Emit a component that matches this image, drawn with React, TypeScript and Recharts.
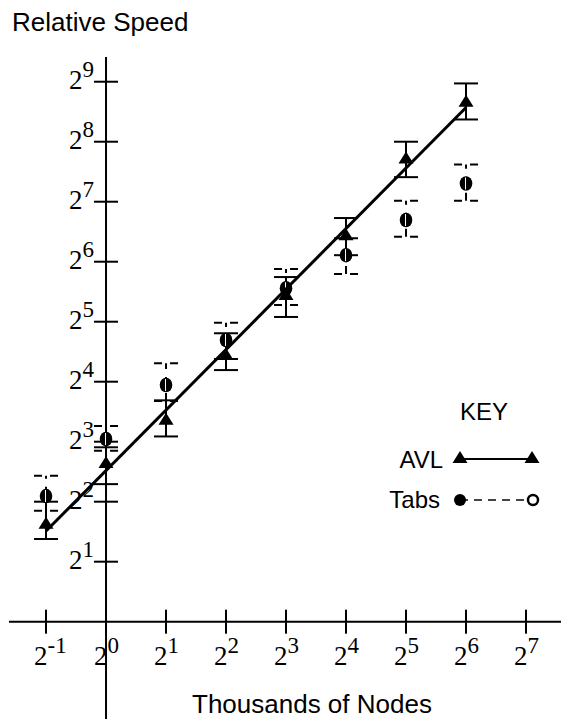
import React from "react";
import { ScatterChart, Scatter, XAxis, YAxis, ErrorBar, ReferenceLine } from "recharts";

// thousands of nodes (x) and relative speed (y), log2 axes
const nodes = [0.5, 1, 2, 4, 8, 16, 32, 64];
const avlSpeed = [3.1, 6.25, 10.3, 21.8, 43.6, 87, 211, 406];
const avlLow = [2.6, 4.9, 8.5, 18.3, 33.8, 69, 170, 331];
const avlHigh = [4.0, 7.5, 12.9, 28, 53.6, 106, 256, 502];
const tabsSpeed = [4.27, 8.25, 15.4, 25.9, 47.1, 69, 103.6, 158];
const tabsLow = [3.6, 7.2, 12.8, 20.8, 38.8, 55.5, 85.4, 129.5];
const tabsHigh = [5.4, 9.6, 19.8, 31.6, 58.8, 84, 129.5, 197];

// fitted AVL line end points
const fitNodes = [0.5, 64];
const fitSpeed = [2.85, 380];

const xTickExps = [-1, 0, 1, 2, 3, 4, 5, 6, 7];
const yTickExps = [1, 2, 3, 4, 5, 6, 7, 8, 9];

const X_DOMAIN = [2 ** -1.617, 2 ** 7.583];
const Y_DOMAIN = [2 ** -1.622, 2 ** 9.412];

const W = 561;
const H = 719;
const SANS = "Liberation Sans, Arial, sans-serif";
const SERIF = "Liberation Serif, Times New Roman, DejaVu Serif, serif";

const avlData = nodes.map((x, i) => ({
  x,
  y: avlSpeed[i],
  err: [avlSpeed[i] - avlLow[i], avlHigh[i] - avlSpeed[i]],
}));
const tabsData = nodes.map((x, i) => ({
  x,
  y: tabsSpeed[i],
  err: [tabsSpeed[i] - tabsLow[i], tabsHigh[i] - tabsSpeed[i]],
}));
const fitData = fitNodes.map((x, i) => ({ x, y: fitSpeed[i] }));
const xTickData = xTickExps.map((e) => ({ x: 2 ** e, y: 1, e }));
const yTickData = yTickExps.map((e) => ({ x: 1, y: 2 ** e, e }));

const Triangle = ({ cx, cy }: any) => (
  <polygon points={`${cx},${cy - 7} ${cx - 7.5},${cy + 5} ${cx + 7.5},${cy + 5}`} fill="#000" />
);

const Dot = ({ cx, cy }: any) => (
  <g>
    <ellipse cx={cx} cy={cy} rx={6.3} ry={7.3} fill="#000" />
    <line x1={cx - 0.5} x2={cx - 0.5} y1={cy - 6} y2={cy + 6} stroke="#fff" strokeWidth={1} />
  </g>
);

const Power = ({ x, y, e, anchor }: any) => (
  <text x={x} y={y} textAnchor={anchor} style={{ fontFamily: SERIF }} fontSize={27} fill="#000">
    2<tspan dy={-12} fontSize={23}>{e}</tspan>
  </text>
);

const YTick = ({ cx, cy, payload }: any) => (
  <g>
    <line x1={cx - 12} x2={cx + 12} y1={cy} y2={cy} stroke="#000" strokeWidth={2} />
    <Power x={cx - 12} y={cy + 7} e={payload.e} anchor="end" />
  </g>
);

const XTick = ({ cx, cy, payload }: any) => (
  <g>
    <line x1={cx} x2={cx} y1={cy - 12} y2={cy + 12} stroke="#000" strokeWidth={2} />
    <Power x={cx - 12} y={cy + 43} e={payload.e} anchor="start" />
  </g>
);

const Nothing = () => <g />;

export default function App() {
  return (
    <div style={{ position: "absolute", left: 0, top: 0, width: W, height: H, background: "#fff" }}>
      <ScatterChart width={W} height={H} margin={{ top: 57, right: 0, bottom: 0, left: 9 }}>
        <XAxis type="number" dataKey="x" scale="log" domain={X_DOMAIN} allowDataOverflow hide />
        <YAxis type="number" dataKey="y" scale="log" domain={Y_DOMAIN} allowDataOverflow hide />
        <ReferenceLine x={1} stroke="#000" strokeWidth={2} />
        <ReferenceLine y={1} stroke="#000" strokeWidth={2} />
        <Scatter data={xTickData} shape={XTick} isAnimationActive={false} />
        <Scatter data={yTickData} shape={YTick} isAnimationActive={false} />
        <Scatter data={tabsData} shape={Dot} isAnimationActive={false}>
          <ErrorBar dataKey="err" direction="y" width={12} stroke="#000" strokeWidth={2} strokeDasharray="8 8" isAnimationActive={false} />
        </Scatter>
        <Scatter data={avlData} shape={Triangle} isAnimationActive={false}>
          <ErrorBar dataKey="err" direction="y" width={12} stroke="#000" strokeWidth={2} isAnimationActive={false} />
        </Scatter>
        <Scatter data={fitData} shape={Nothing} line={{ stroke: "#000", strokeWidth: 3 }} isAnimationActive={false} />
      </ScatterChart>
      <svg width={W} height={H} style={{ position: "absolute", left: 0, top: 0, pointerEvents: "none", fontFamily: SANS }}>
        <text x={12} y={31} fontSize={26} fill="#000">Relative Speed</text>
        <text x={192} y={713} fontSize={26} fill="#000">Thousands of Nodes</text>
        <text x={460} y={420} fontSize={24} fill="#000">KEY</text>
        <text x={443} y={468} textAnchor="end" fontSize={24} fill="#000">AVL</text>
        <line x1={460} x2={532} y1={459} y2={459} stroke="#000" strokeWidth={2} />
        <Triangle cx={460} cy={458} />
        <Triangle cx={532} cy={458} />
        <text x={440} y={508} textAnchor="end" fontSize={24} fill="#000">Tabs</text>
        <line x1={460} x2={528} y1={500} y2={500} stroke="#444" strokeWidth={2} strokeDasharray="8 6" />
        <circle cx={460} cy={500} r={6} fill="#000" />
        <circle cx={533} cy={500} r={5} fill="#fff" stroke="#000" strokeWidth={2.5} />
      </svg>
    </div>
  );
}
